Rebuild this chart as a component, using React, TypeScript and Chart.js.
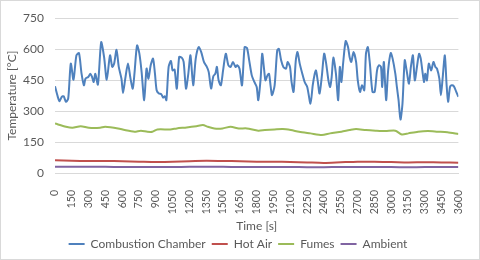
import React, { useEffect, useRef } from "react";
import { Chart, registerables } from "chart.js";

Chart.register(...registerables);

// Combustion Chamber (time [s], temperature [°C])
const ccTime = [
  0, 25, 40, 60, 77, 98, 118, 141, 165, 191,
  214, 237, 258, 272, 296, 316, 331, 345, 360, 383,
  412, 438, 462, 491, 511, 528, 549, 569, 593, 607,
  627, 651, 674, 694, 709, 732, 753, 773, 796, 817,
  834, 854, 875, 892, 907, 927, 948, 965, 980, 994,
  1014, 1035, 1049, 1067, 1087, 1108, 1131, 1148, 1169, 1189,
  1209, 1233, 1256, 1282, 1305, 1329, 1355, 1372, 1393, 1413,
  1431, 1445, 1460, 1480, 1500, 1524, 1547, 1567, 1588, 1611,
  1626, 1646, 1669, 1692, 1713, 1733, 1756, 1779, 1800, 1814,
  1835, 1849, 1867, 1878, 1896, 1910, 1925, 1937, 1960, 1983,
  1998, 2018, 2038, 2062, 2076, 2097, 2111, 2129, 2149, 2164,
  2184, 2207, 2228, 2251, 2280, 2300, 2318, 2329, 2344, 2361,
  2382, 2402, 2420, 2440, 2455, 2469, 2484, 2507, 2527, 2542,
  2556, 2571, 2594, 2615, 2629, 2644, 2664, 2687, 2702, 2722,
  2740, 2760, 2775, 2792, 2810, 2833, 2853, 2874, 2891, 2909,
  2920, 2935, 2955, 2973, 2996, 3013, 3037, 3051, 3066, 3083,
  3101, 3121, 3138, 3159, 3176, 3194, 3211, 3232, 3249, 3264,
  3278, 3293, 3304, 3319, 3336, 3357, 3377, 3395, 3409, 3430,
  3444, 3459, 3479, 3494, 3508, 3525, 3540, 3560, 3581, 3600,
];
const ccTemp = [
  420, 369, 348, 369, 372, 345, 361, 530, 452, 570,
  581, 481, 425, 457, 465, 481, 465, 441, 481, 428,
  634, 562, 452, 570, 514, 530, 597, 514, 457, 388,
  457, 530, 457, 409, 481, 618, 578, 489, 353, 506,
  457, 522, 554, 481, 401, 385, 382, 365, 372, 353,
  514, 543, 497, 501, 409, 562, 559, 538, 409, 478,
  570, 425, 554, 610, 586, 538, 514, 489, 409, 469,
  481, 514, 449, 425, 497, 578, 522, 514, 538, 514,
  522, 506, 425, 610, 606, 546, 473, 441, 417, 353,
  457, 578, 497, 449, 473, 481, 417, 377, 425, 594,
  602, 546, 514, 506, 538, 514, 441, 393, 546, 586,
  530, 481, 441, 417, 336, 425, 481, 497, 449, 385,
  473, 578, 530, 449, 417, 465, 559, 481, 353, 514,
  441, 530, 639, 610, 562, 538, 586, 538, 449, 393,
  425, 401, 578, 610, 530, 393, 393, 497, 522, 514,
  417, 538, 353, 497, 581, 554, 481, 417, 353, 259,
  336, 546, 497, 433, 514, 570, 449, 522, 578, 554,
  497, 441, 481, 449, 530, 497, 538, 514, 506, 457,
  377, 457, 570, 433, 345, 417, 425, 420, 393, 369,
];

// Fumes
const fumesTime = [
  0, 98, 156, 229, 302, 403, 447, 563, 622, 709,
  767, 825, 869, 913, 1029, 1087, 1175, 1262, 1320, 1364,
  1422, 1495, 1567, 1640, 1713, 1814, 1873, 1960, 2033, 2105,
  2178, 2280, 2382, 2455, 2556, 2629, 2687, 2775, 2862, 2949,
  3037, 3095, 3153, 3240, 3328, 3415, 3502, 3600,
];
const fumesTemp = [
  240, 224, 219, 227, 219, 219, 224, 216, 208, 200,
  205, 200, 200, 211, 211, 216, 221, 227, 232, 224,
  216, 216, 224, 216, 216, 205, 208, 211, 213, 208,
  200, 192, 184, 192, 200, 208, 213, 208, 205, 203,
  205, 187, 192, 200, 203, 200, 197, 189,
];

// Hot Air and Ambient (every 150 s)
const gridTime = [
  0, 150, 300, 450, 600, 750, 900, 1050, 1200, 1350, 1500, 1650, 1800,
  1950, 2100, 2250, 2400, 2550, 2700, 2850, 3000, 3150, 3300, 3450, 3600,
];
const hotAirTemp = [
  62, 59, 58, 58, 57, 55, 53, 54, 57, 59, 58, 57, 55,
  55, 53, 51, 49, 52, 55, 54, 53, 51, 52, 51, 50,
];
const ambientTemp = [
  30, 30, 30, 30, 29, 29, 29, 29, 30, 30, 30, 29, 29,
  29, 29, 28, 28, 29, 29, 29, 29, 28, 29, 29, 29,
];

const seriesNames = ["Combustion Chamber", "Hot Air", "Fumes", "Ambient"];
const seriesColors = ["#4F81BD", "#C0504D", "#9BBB59", "#8064A2"];

const xMin = 0;
const xMax = 3600;
const xStep = 150;
const yMin = 0;
const yMax = 750;
const yStep = 150;

const toPoints = (xs: number[], ys: number[]) => xs.map((x, i) => ({ x, y: ys[i] }));

const borderPlugin = {
  id: "chartBorder",
  beforeDraw(chart: any) {
    const { ctx, width, height } = chart;
    ctx.save();
    ctx.fillStyle = "#ffffff";
    ctx.fillRect(0, 0, width, height);
    ctx.strokeStyle = "#d9d9d9";
    ctx.lineWidth = 1;
    ctx.strokeRect(0.5, 0.5, width - 1, height - 1);
    ctx.restore();
  },
};

export default function App() {
  const ref = useRef<HTMLCanvasElement | null>(null);

  useEffect(() => {
    document.body.style.margin = "0";
    const canvas = ref.current;
    if (!canvas) return;
    const font = "Lato, 'Liberation Sans', sans-serif";
    const grey = "#595959";
    const mk = (i: number, data: { x: number; y: number }[]) => ({
      label: seriesNames[i],
      data,
      borderColor: seriesColors[i],
      backgroundColor: seriesColors[i],
      borderWidth: 2,
      pointRadius: 0,
      pointHoverRadius: 0,
      tension: 0.25,
      fill: false,
      pointStyle: "line" as const,
    });
    const chart = new Chart(canvas, {
      type: "line",
      data: {
        datasets: [
          mk(0, toPoints(ccTime, ccTemp)),
          mk(1, toPoints(gridTime, hotAirTemp)),
          mk(2, toPoints(fumesTime, fumesTemp)),
          mk(3, toPoints(gridTime, ambientTemp)),
        ],
      },
      options: {
        responsive: false,
        animation: false,
        layout: { padding: { top: 10, right: 4, left: 0, bottom: 0 } },
        plugins: {
          legend: {
            position: "bottom",
            labels: {
              usePointStyle: true,
              pointStyleWidth: 16,
              color: grey,
              font: { family: font, size: 12 },
              padding: 6,
            },
          },
          tooltip: { enabled: false },
        },
        scales: {
          x: {
            type: "linear",
            min: xMin,
            max: xMax,
            grid: { display: false },
            border: { display: true, color: "#d9d9d9" },
            afterFit: (s: any) => {
              s.height = 59;
            },
            ticks: {
              stepSize: xStep,
              autoSkip: false,
              minRotation: 90,
              maxRotation: 90,
              color: grey,
              font: { family: font, size: 10.5 },
              padding: 9,
              callback: (v: any) => String(v),
            },
            title: {
              display: true,
              text: "Time [s]",
              color: grey,
              font: { family: font, size: 12 },
              padding: { top: 4, bottom: -1 },
            },
          },
          y: {
            min: yMin,
            max: yMax,
            grid: { color: "#d9d9d9", drawTicks: false },
            border: { display: false },
            afterFit: (s: any) => {
              s.width = 55;
            },
            ticks: {
              stepSize: yStep,
              color: grey,
              font: { family: font, size: 12 },
              padding: 11,
              callback: (v: any) => String(v),
            },
            title: {
              display: true,
              text: "Temperature [°C]",
              color: grey,
              font: { family: font, size: 12 },
              padding: { top: 5, bottom: 0 },
            },
          },
        },
      },
      plugins: [borderPlugin],
    });
    return () => chart.destroy();
  }, []);

  return (
    <div style={{ position: "absolute", left: 0, top: 0, width: 480, height: 260 }}>
      <canvas ref={ref} width={480} height={260} />
    </div>
  );
}
